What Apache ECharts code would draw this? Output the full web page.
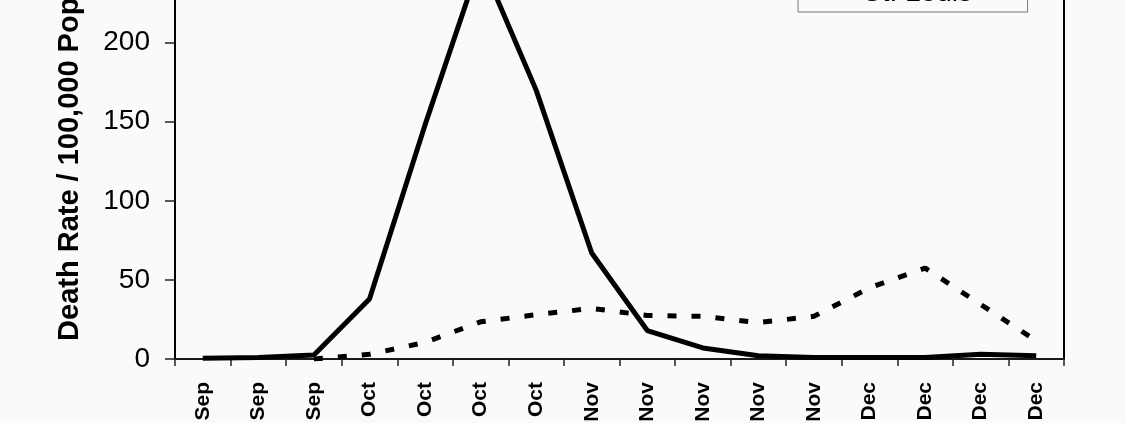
<!DOCTYPE html>
<html>
<head>
<meta charset="utf-8">
<script src="https://cdn.jsdelivr.net/npm/echarts@6/dist/echarts.min.js"></script>
<style>
  html, body { margin: 0; padding: 0; background: #fafafa; }
  #chart { width: 1125px; height: 423px; }
</style>
</head>
<body>
<div id="chart"></div>
<script>
const categories = ['Sep','Sep','Sep','Oct','Oct','Oct','Oct','Nov','Nov','Nov','Nov','Nov','Dec','Dec','Dec','Dec'];
const philadelphia = [0.5, 1, 2.5, 38, 148, 252, 170, 67, 18, 7, 2, 1, 1, 1, 3, 2];
const stLouis = [null, null, 0, 3, 10.5, 23.5, 28, 32, 27.5, 27, 23, 27, 45, 57.5, 34.5, 11.5];
const seriesNames = ['Philadelphia', 'St. Louis'];
const yTicks = { min: 0, max: 300, interval: 50 };

const font = '"Liberation Sans", Arial, Helvetica, sans-serif';
const chart = echarts.init(document.getElementById('chart'), null, { renderer: 'canvas' });
chart.setOption({
  animation: false,
  backgroundColor: '#fafafa',
  textStyle: { fontFamily: font },
  grid: {
    left: 175, right: 61, top: -115.5, bottom: 64,
    outerBoundsMode: 'none',
    containLabel: false,
    show: true, borderColor: '#000', borderWidth: 2, backgroundColor: 'transparent'
  },
  legend: {
    data: seriesNames,
    orient: 'vertical',
    left: 798,
    top: -60,
    padding: [5, 12, 5, 9],
    itemGap: 6,
    itemWidth: 50,
    itemHeight: 14,
    borderColor: '#777',
    borderWidth: 1,
    backgroundColor: '#fafafa',
    textStyle: { fontSize: 28, color: '#000', fontFamily: font }
  },
  xAxis: {
    type: 'category',
    data: categories,
    boundaryGap: true,
    axisLine: { lineStyle: { color: '#222', width: 1.5 } },
    axisTick: { show: true, length: 7, inside: false, alignWithLabel: false, lineStyle: { color: '#222', width: 1.5 } },
    axisLabel: { rotate: 90, margin: 23, fontSize: 21, fontWeight: 'bold', color: '#000', interval: 0, fontFamily: font },
    splitLine: { show: false }
  },
  yAxis: {
    type: 'value',
    min: yTicks.min, max: yTicks.max, interval: yTicks.interval,
    name: 'Death Rate / 100,000 Population',
    nameLocation: 'middle',
    nameRotate: 90,
    nameGap: 91,
    nameTextStyle: { fontSize: 29, fontWeight: 'bold', color: '#000', fontFamily: font },
    axisLine: { show: true, lineStyle: { color: '#000', width: 2 } },
    axisTick: { show: true, length: 10, lineStyle: { color: '#222', width: 1.5 } },
    axisLabel: { margin: 25, fontSize: 28, color: '#000', fontFamily: font },
    splitLine: { show: false }
  },
  series: [
    {
      name: seriesNames[0],
      type: 'line',
      data: philadelphia,
      symbol: 'none',
      lineStyle: { color: '#000', width: 5, type: 'solid' },
      itemStyle: { color: '#000' },
      z: 3
    },
    {
      name: seriesNames[1],
      type: 'line',
      data: stLouis,
      symbol: 'none',
      lineStyle: { color: '#000', width: 5, type: [9, 15], cap: 'butt' },
      itemStyle: { color: '#000' },
      z: 2
    }
  ]
});
</script>
</body>
</html>
